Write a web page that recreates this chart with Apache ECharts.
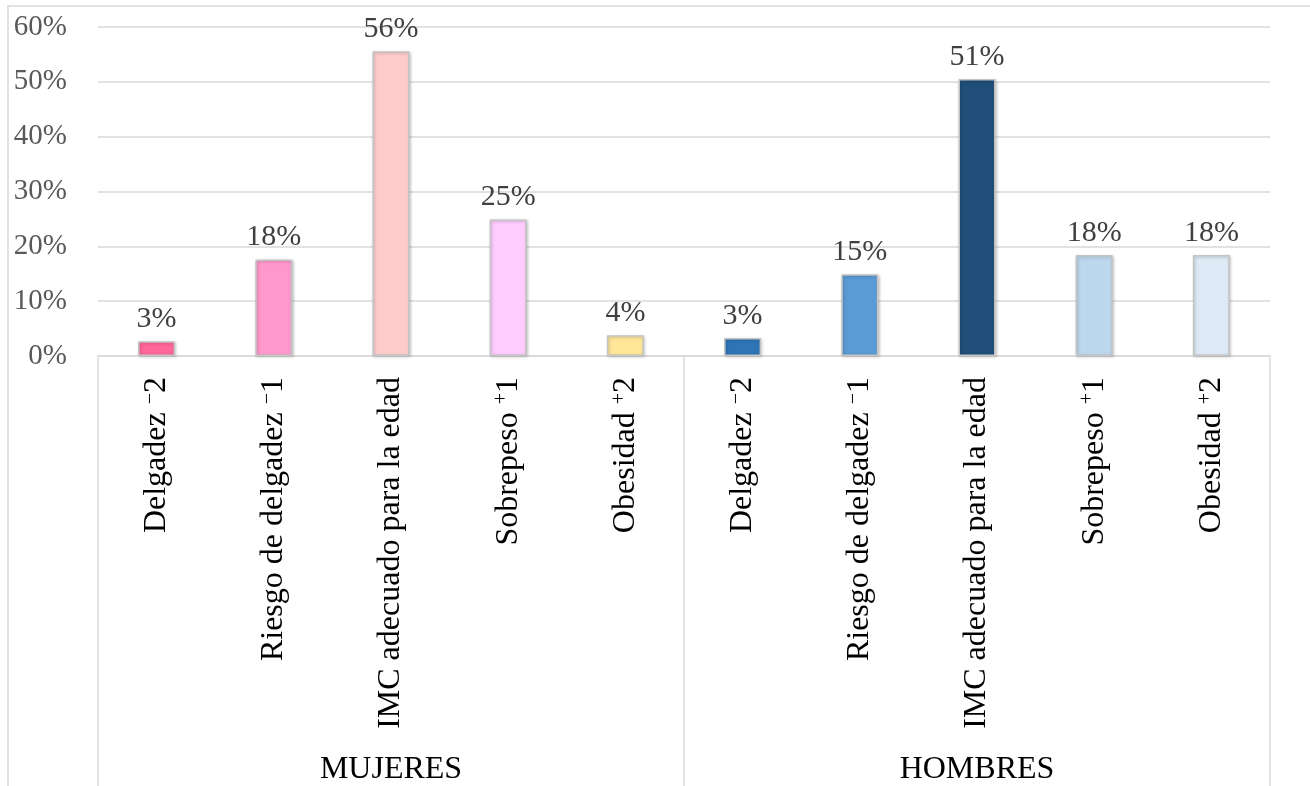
<!DOCTYPE html>
<html>
<head>
<meta charset="utf-8">
<script src="https://cdn.jsdelivr.net/npm/echarts@6/dist/echarts.min.js"></script>
<style>
html,body{margin:0;padding:0;background:#fff;}
#c{width:1310px;height:786px;}
</style>
</head>
<body>
<div id="c"></div>
<script>
const groups = ['MUJERES', 'HOMBRES'];
const categories = ['Delgadez', 'Riesgo de delgadez', 'IMC adecuado para la edad', 'Sobrepeso', 'Obesidad'];
const signs = ['−', '−', '', '+', '+'];
const grades = ['2', '1', '', '1', '2'];
const mujeresValues = [2.7, 17.6, 55.6, 24.9, 3.8];
const hombresValues = [3.3, 14.9, 50.5, 18.4, 18.4];
const mujeresColors = ['#FF6699', '#FF99CC', '#FFCCCC', '#FFCCFF', '#FFE699'];
const hombresColors = ['#2E75B6', '#5B9BD5', '#1F4E79', '#BDD7EE', '#DEEBF7'];
const yTicks = [0, 10, 20, 30, 40, 50, 60];

const FONT = "'Liberation Serif', 'Times New Roman', serif";

const catKeys = [];
const catLabels = [];
groups.forEach(function (g) {
  categories.forEach(function (c, i) {
    catKeys.push(g + '|' + c);
    catLabels.push(signs[i] ? c + ' {s|' + signs[i] + '}' + grades[i] : c);
  });
});
const values = mujeresValues.concat(hombresValues);
const colors = mujeresColors.concat(hombresColors);

const chart = echarts.init(document.getElementById('c'));
chart.setOption({
  animation: false,
  backgroundColor: '#fff',
  graphic: [{
    type: 'rect', z: -10, silent: true,
    shape: { x: 8, y: 6, width: 1400, height: 900 },
    style: { fill: 'none', stroke: '#d9d9d9', lineWidth: 1.5 }
  }],
  grid: { left: 98, right: 40, top: 27, bottom: 429, containLabel: false },
  xAxis: [{
    type: 'category',
    data: catKeys,
    position: 'bottom',
    axisLine: { show: true, lineStyle: { color: '#d9d9d9', width: 1.5 } },
    axisTick: { show: false },
    axisLabel: {
      rotate: 90,
      margin: 21,
      interval: 0,
      fontFamily: FONT,
      fontSize: 32,
      color: '#000',
      formatter: function (v, idx) { return catLabels[idx]; },
      rich: {
        s: { fontFamily: FONT, fontSize: 20, color: '#000', verticalAlign: 'top' }
      }
    }
  }, {
    type: 'category',
    data: groups,
    position: 'bottom',
    axisLine: { show: false },
    axisTick: { show: true, length: 440, lineStyle: { color: '#d9d9d9', width: 1.5 } },
    axisLabel: {
      margin: 398,
      fontFamily: FONT,
      fontSize: 32,
      color: '#000'
    }
  }],
  yAxis: {
    type: 'value',
    min: 0, max: 60, interval: 10,
    axisLine: { show: false },
    axisTick: { show: false },
    splitLine: { lineStyle: { color: '#d9d9d9', width: 1.5 } },
    axisLabel: {
      margin: 31,
      fontFamily: FONT,
      fontSize: 29,
      color: '#595959',
      formatter: function (v) { return yTicks.indexOf(v) >= 0 ? v + '%' : ''; }
    }
  },
  series: [{
    type: 'bar',
    xAxisIndex: 0,
    barWidth: 37,
    data: values.map(function (v, i) {
      return { value: v, itemStyle: { color: colors[i] } };
    }),
    itemStyle: {
      borderColor: '#c4c4c4',
      borderWidth: 1.5,
      shadowColor: 'rgba(0,0,0,0.22)',
      shadowBlur: 3,
      shadowOffsetX: 1,
      shadowOffsetY: 1
    },
    label: {
      show: true,
      position: 'top',
      distance: 7,
      fontFamily: FONT,
      fontSize: 30,
      color: '#404040',
      formatter: function (p) { return Math.round(p.value) + '%'; }
    }
  }]
});
</script>
</body>
</html>
